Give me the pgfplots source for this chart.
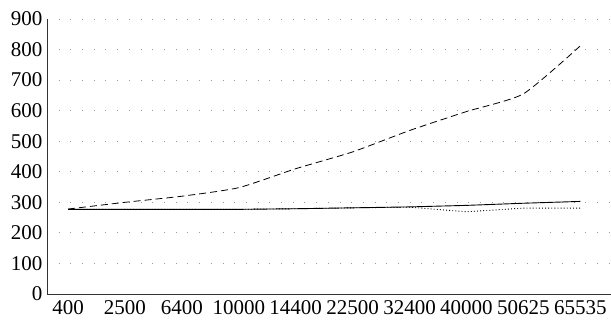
\documentclass[border=0pt]{standalone}
\usepackage{fontspec}
\setmainfont{Liberation Serif}
\usepackage{pgfplots}
\pgfplotsset{compat=1.18}
\begin{document}
\begin{tikzpicture}
\begin{axis}[
  name=ax,
  scale only axis,
  width=564pt, height=275pt,
  xmin=-0.37, xmax=9.54,
  ymin=0, ymax=900,
  axis x line=bottom, axis y line=left,
  axis line style={-, line width=0.8pt, black!80},
  xtick={0,...,9},
  xticklabels={400,2500,6400,10000,14400,22500,32400,40000,50625,65535},
  ytick={0,100,...,900},
  major tick length=0pt,
  ymajorgrids,
  grid style={gray!80, line width=0.9pt, dash pattern=on 0.9pt off 10.8pt},
  tick label style={font=\fontsize{21}{24}\selectfont},
  /pgf/number format/assume math mode=true,
  yticklabel style={xshift=-1pt},
  xticklabel style={yshift=-3pt},
  clip=false,
]
\addplot[black, line width=0.8pt, dash pattern=on 7pt off 4pt, smooth, tension=0.35] coordinates {
(0,278) (1,300) (2,320) (3,348) (4,410) (5,465) (6,535) (7,597) (8,655) (9,812)};
\addplot[black, line width=0.9pt] coordinates {
(0,277) (1,277) (2,277) (3,277) (4,279) (5,282) (6,285) (7,290) (8,297) (9,303)};
\addplot[black, line width=0.9pt, dash pattern=on 0.9pt off 2.2pt] coordinates {
(0,277) (1,277) (2,277) (3,277) (4,279) (5,282) (6,284) (7,269) (8,281) (9,281)};
\end{axis}
\pgfresetboundingbox
\useasboundingbox ([xshift=-47pt,yshift=19pt]ax.north west) rectangle ([yshift=-27pt]ax.south east);
\end{tikzpicture}
\end{document}
